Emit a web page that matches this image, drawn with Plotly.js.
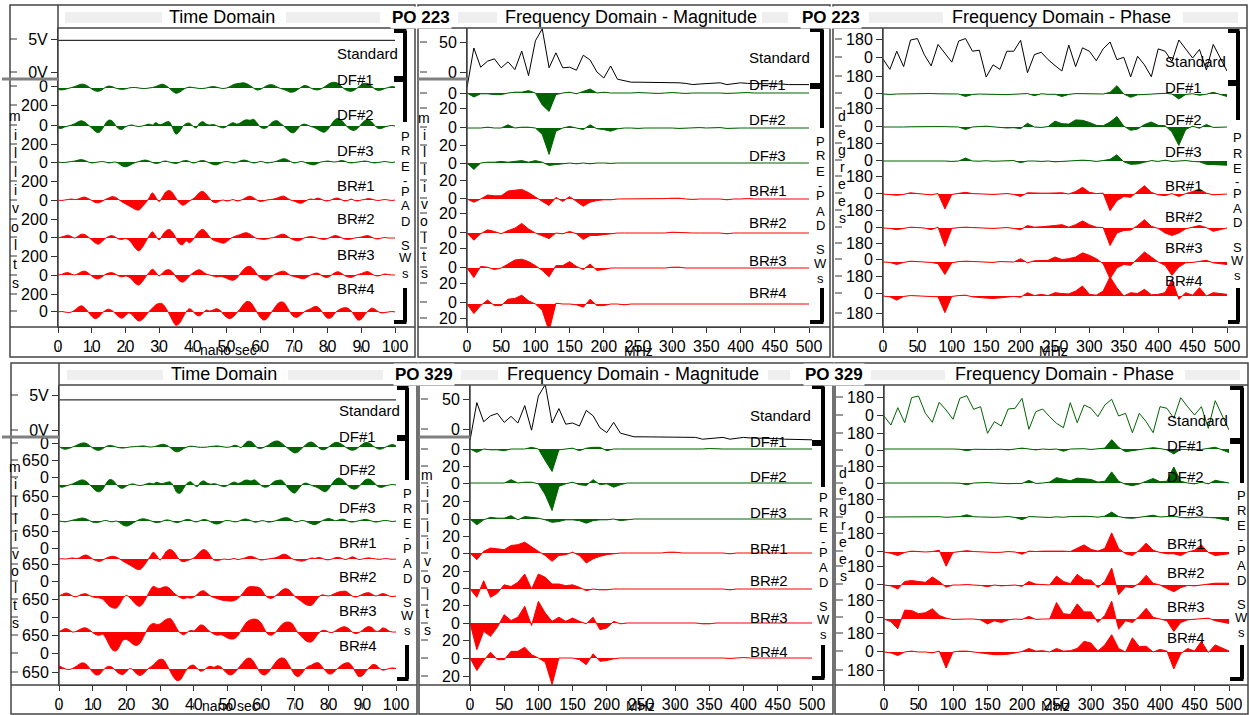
<!DOCTYPE html>
<html><head><meta charset="utf-8">
<script src="https://cdn.plot.ly/plotly-3.0.1.min.js"></script>
<style>html,body{margin:0;padding:0;background:#fff}#chart{width:1249px;height:715px}</style>
</head><body><div id="chart"></div>
<script>
// ---------------- DATA ----------------
const timeNs = [0,1,2,3,4,5,6,7,8,9,10,11,12,13,14,15,16,17,18,19,20,21,22,23,24,25,26,27,28,29,30,31,32,33,34,35,36,37,38,39,40,41,42,43,44,45,46,47,48,49,50,51,52,53,54,55,56,57,58,59,60,61,62,63,64,65,66,67,68,69,70,71,72,73,74,75,76,77,78,79,80,81,82,83,84,85,86,87,88,89,90,91,92,93,94,95,96,97,98,99,100];
const freqMag = [0,10,20,30,40,50,60,70,80,90,100,110,120,130,140,150,160,170,180,190,200,210,220,230,240,250,260,270,280,290,300,310,320,330,340,350,360,370,380,390,400,410,420,430,440,450,460,470,480,490,500];
const freqPhase = [0,10,20,30,40,50,60,70,80,90,100,110,120,130,140,150,160,170,180,190,200,210,220,230,240,250,260,270,280,290,300,310,320,330,340,350,360,370,380,390,400,410,420,430,440,450,460,470,480,500];
const seriesNames = ['Standard','DF#1','DF#2','DF#3','BR#1','BR#2','BR#3','BR#4'];
const poLabels = ['PO 223','PO 329'];
const panelTitles = ['Time Domain','Frequency Domain - Magnitude','Frequency Domain - Phase'];
const timeTicks = [0,10,20,30,40,50,60,70,80,90,100];
const freqTicks = [0,50,100,150,200,250,300,350,400,450,500];
const timeStdTickText = ['5V','0V'];
const magStdTickText = ['50','0'];
const phaseStdTickText = ['180','0','180'];
const timeTopUnitText = '200', timeBotUnitText = '650', magUnitText = '20', phaseUnitText = '180';

// Time domain, PO 223 (Standard in V, others in mV)
const tStdTop = [4.80,4.80,4.79,4.79,4.78,4.79,4.80,4.81,4.80,4.79, 4.78,4.77,4.77,4.78,4.79,4.80,4.79,4.78,4.77,4.78, 4.79,4.80,4.79,4.78,4.77,4.76,4.76,4.77,4.79,4.81, 4.83,4.84,4.83,4.81,4.79,4.78,4.78,4.79,4.80,4.80, 4.79,4.78,4.78,4.79,4.80,4.81,4.80,4.79,4.78,4.78, 4.79,4.81,4.82,4.82,4.81,4.80,4.79,4.78,4.77,4.77, 4.78,4.79,4.80,4.79,4.78,4.78,4.79,4.80,4.80,4.79, 4.78,4.77,4.77,4.78,4.79,4.80,4.79,4.78,4.78,4.79, 4.80,4.81,4.80,4.79,4.78,4.77,4.76,4.76,4.77,4.78, 4.79,4.80,4.81,4.80,4.79,4.79,4.80,4.80,4.80,4.80, 4.80];
const tDF1Top = [-15,-20,-15,-5,5,15,30,40,35,15, -10,-30,-35,-20,5,20,15,0,-10,-15, -10,0,5,5,0,-5,-5,0,5,15, 30,40,25,0,-35,-55,-45,-20,0,10, 5,0,-5,-5,0,10,15,10,0,-5, 0,15,35,45,50,55,45,25,0,-20, -15,5,25,35,30,10,-5,-15,-30,-45, -40,-20,5,25,20,0,-15,-20,-10,10, 35,55,60,50,20,-10,-30,-35,-20,5, 35,50,45,20,-10,-25,-20,-5,5,15, 10];
const tDF2Top = [-20,-25,-10,0,10,25,45,55,40,10, -20,-55,-70,-40,20,60,55,10,-30,-35, -10,5,10,0,-5,0,10,20,10,35, 15,20,40,45,-20,-85,-60,-5,25,30, 0,-20,30,45,20,10,15,5,-10,-20, -5,20,35,20,30,55,65,60,70,35, -10,-25,-15,20,50,55,30,0,-35,-65, -70,-35,5,20,10,-5,-15,-35,-55,-65, -40,10,60,80,65,25,-15,-40,-45,-20, 20,55,65,45,5,-25,-25,-10,0,5, 0];
const tDF3Top = [0,-5,-5,0,5,10,20,25,15,0, -10,-5,0,5,0,-10,-5,0,-15,-40, -50,-40,-20,-5,5,15,20,10,-5,-15, -10,5,10,0,-10,-15,-5,10,15,5, -10,-5,10,15,5,-10,-25,-30,-15,0, 5,0,-10,-5,10,20,15,0,-10,-5, 5,0,-10,-5,0,10,25,35,25,5, -10,-5,5,0,-15,-25,-30,-15,0,5, 10,5,0,5,15,10,-5,-10,-5,0, 5,10,5,-5,-10,-5,0,5,0,-5, 0];
const tBR1Top = [0,-5,0,5,10,5,10,25,30,15, -5,-25,-30,-15,5,20,35,30,5,-20, -40,-60,-80,-100,-105,-70,-30,20,75,30, -15,30,85,100,75,20,-30,-55,-40,-10, 10,40,80,90,60,15,-20,-25,-10,0, -10,-5,5,-10,-5,10,30,40,25,0, -15,-10,0,5,10,20,35,40,20,0, -10,-25,-35,-20,0,10,5,20,10,-5, -10,0,15,20,5,-10,-5,10,-5,-10, 0,5,15,10,0,-5,0,5,0,-5, 0];
const tBR2Top = [0,10,20,30,15,0,20,40,35,10, -20,-50,-65,-40,-5,15,25,10,-10,-15, -5,-20,-60,-110,-135,-100,-40,20,65,20, -20,30,75,90,60,0,-60,-70,-30,-50, -20,30,75,90,60,10,-20,-35,-45,-55, -40,-10,10,25,35,50,55,40,15,-5, -10,-15,-10,0,5,20,35,40,20,-5, -20,-30,-20,0,10,15,10,0,-10,-15, -5,10,25,20,5,-10,-15,-10,0,5, 10,20,25,10,-5,-10,0,5,0,0, 0];
const tBR3Top = [0,5,20,25,10,0,15,35,40,20, -10,-35,-40,-20,5,20,25,10,-10,-20, -10,-20,-50,-90,-105,-70,-20,25,60,30, -10,20,50,55,30,-20,-60,-75,-50,-10, 20,45,55,35,10,0,-10,-20,-15,-20, -35,-50,-55,-35,10,55,85,90,60,10, -30,-50,-55,-30,0,20,35,40,20,-5, -15,-25,-35,-40,-20,0,15,20,0,-20, -25,-5,20,35,20,-5,-20,-25,-10,5, 15,30,35,15,-5,-10,0,10,5,0, 0];
const tBR4Top = [0,5,0,-5,0,20,50,65,40,0, -45,-70,-55,-15,15,30,15,-15,-50,-65, -40,-10,-30,-70,-95,-80,-40,5,40,75, 90,85,40,-20,-90,-140,-120,-60,0,35, 10,-30,-40,-10,20,10,20,35,20,-20, -55,-70,-50,-10,30,80,110,105,60,0, -55,-85,-70,-20,30,80,105,100,50,-10, -50,-55,-30,0,20,35,55,55,20,-30, -65,-60,-20,15,35,45,40,10,-40,-85, -75,-30,10,40,30,5,-10,-5,0,5, 0];

// Time domain, PO 329
const tStdBot = [4.30,4.30,4.29,4.28,4.28,4.29,4.30,4.31,4.30,4.29, 4.28,4.27,4.27,4.28,4.29,4.30,4.30,4.29,4.28,4.28, 4.29,4.30,4.29,4.28,4.27,4.26,4.26,4.27,4.29,4.31, 4.33,4.34,4.33,4.31,4.29,4.28,4.28,4.29,4.30,4.30, 4.29,4.28,4.28,4.29,4.30,4.31,4.30,4.29,4.28,4.28, 4.29,4.30,4.31,4.31,4.30,4.29,4.28,4.27,4.27,4.27, 4.28,4.29,4.30,4.29,4.28,4.28,4.29,4.31,4.31,4.30, 4.28,4.27,4.27,4.28,4.29,4.30,4.29,4.28,4.28,4.29, 4.30,4.31,4.30,4.29,4.28,4.27,4.26,4.26,4.27,4.28, 4.29,4.30,4.31,4.30,4.29,4.29,4.30,4.30,4.30,4.30, 4.30];
const tDF1Bot = [30,-60,-80,-50,0,50,110,150,140,60, -40,-110,-120,-60,20,60,40,0,-30,-40, -20,0,10,20,30,40,20,0,10,40, 80,100,60,-20,-130,-180,-140,-60,0,30, 20,0,-10,-10,0,20,30,40,20,0, -10,10,60,40,-20,100,210,200,80,-40, -50,0,60,150,210,220,150,40,-60,-160, -220,-180,-60,60,160,180,100,-20,-100,-80, 0,100,170,160,90,0,-80,-120,-90,0, 100,170,150,60,-30,-80,-60,0,60,90, 40];
const tDF2Bot = [-60,-80,-40,0,40,100,160,190,140,30, -100,-220,-250,-150,60,200,170,30,-100,-120, -40,20,40,0,-20,0,40,70,40,100, 60,60,100,110,-40,-280,-300,-120,60,120, 20,-60,100,150,70,30,50,20,-30,-60, -20,60,110,60,90,170,180,150,190,100, -20,-80,-60,40,140,170,180,60,-120,-250, -300,-160,0,70,40,-20,-60,-120,-200,-250, -150,40,200,260,210,80,-60,-140,-150,-60, 80,200,220,150,20,-80,-80,-30,0,20, 0];
const tDF3Bot = [0,-20,-30,0,30,60,90,110,80,20, -40,-60,-40,0,20,-20,-30,0,-60,-150, -190,-150,-70,0,60,80,60,20,-30,-60, -40,10,40,20,-30,-60,-30,20,60,40, -20,-30,20,60,30,-30,-90,-110,-70,0, 20,0,-30,-20,30,70,60,10,-40,-30, 10,0,-40,-30,0,40,90,120,110,40, -30,-20,20,0,-60,-110,-130,-70,0,60, 90,60,10,40,70,40,-20,-40,-20,10, 40,60,30,-10,-40,-20,10,20,0,-20, 0];
const tBR1Bot = [0,10,0,20,40,20,40,110,150,90, 0,-60,-90,-40,30,80,100,70,0,-80, -160,-220,-300,-370,-390,-280,-100,80,250,120, -40,120,300,350,280,100,-60,-100,-60,-20, 40,150,290,350,280,100,-40,-60,-30,0, -20,-10,20,-20,0,30,80,100,60,0, -40,-20,0,20,40,80,150,180,120,20, -30,-60,-80,-50,0,40,20,60,30,-20, -30,0,50,60,20,-20,20,80,40,-20, 0,30,40,20,0,-10,0,20,0,-10, 0];
const tBR2Bot = [0,60,110,80,0,-30,20,70,80,20, -30,-60,-70,-120,-250,-380,-440,-450,-300,-80, 20,-60,-200,-330,-380,-260,-40,200,360,300, 280,330,340,260,120,20,-60,-100,-60,-80, -40,60,170,190,100,0,-60,-100,-140,-170, -180,-190,-170,-100,20,180,320,350,340,330, 250,60,-60,-90,-20,80,200,270,250,120, -20,-120,-200,-300,-350,-340,-200,-40,40,20, 0,40,100,150,170,180,100,0,-40,0, 60,110,120,60,0,40,90,60,0,-20, 0];
const tBR3Bot = [0,80,130,80,0,20,80,140,150,80, -20,-100,-120,-80,-250,-500,-680,-700,-520,-300, -280,-350,-460,-500,-420,-200,50,250,320,280, 300,400,480,500,350,120,-40,-100,-20,60, 40,150,260,230,100,0,-80,-120,-100,-150, -220,-260,-250,-150,50,250,400,460,480,450, 330,100,-80,-120,-40,100,260,350,370,330, 150,-50,-180,-300,-370,-360,-220,-50,50,60, 0,-20,40,120,180,190,120,0,-60,-20, 60,160,200,150,30,40,150,120,30,0, 0];
const tBR4Bot = [120,60,0,-20,20,90,180,230,180,40, -120,-220,-200,-60,60,100,40,-80,-180,-200, -100,20,-40,-180,-240,-180,-40,60,150,280, 360,340,150,-80,-300,-430,-400,-200,0,120, 140,20,-80,-40,60,100,60,120,80,-60, -180,-220,-150,0,150,300,400,380,220,0, -180,-220,-140,20,200,350,410,380,200,-20, -220,-280,-180,0,100,150,220,230,100,-60, -180,-170,-60,60,160,220,230,100,-120,-280, -250,-100,40,160,150,40,-40,-20,20,40, 20];

// Frequency domain magnitude, PO 223
const mStdTop = [-26,40,8,18,22,7,17,4,35,-6, 52,72,7,32,7,8,3,28,20,0, -10,10,-12,-14,-17,-17,-17,-17,-18,-17, -18,-18,-19,-21,-20,-19,-19,-18,-21,-19, -18,-19,-19,-20,-20,-20,-20,-21,-21,-21, -21];
const mDF1Top = [0,-5,-1,-1,-2,-2,0,1,1,3, 0,-15,-23,-2,0,1,-1,2,5,0, 1,0,0,-0.5,0,0.5,0,0,-0.5,0, 0.5,0,-0.5,0,0,0.5,0,0,-0.5,0, 0,0.5,0,0,0,-0.5,0,0,0,0, 0];
const mDF2Top = [0,0,0,1,0,0,4,0,1,1, 0,-8,-33,-4,0,2,0,-2,4,-1, -2,-4,-1,0,0,-0.5,0,0,0.5,0, 0,-0.5,0,0,0.5,0,0,0.5,-0.5,0, 0,0,0,0.5,0,0,0,0,0,0, 0];
const mDF3Top = [0,-8,0,1,1,2,1,2,3,1, 3,1,-3,-2,-1,0,-1,0,-1,0, 0,-0.5,0,0,0,0,0,0,0,0, 0,0,0,0,0,0,0,0,0,0, 0,0,0,0,0,0,0,0,0,0, 0];
const mBR1Top = [0,-4,0,5,4,4,10,11,12,8, 2,-3,-8,2,-3,3,-3,-9,-4,-2, -1,-1,0,0,0,0,0,0,0,0.5, 1,1,0,-0.5,0,0,0,0,-1,0, 0,0.5,0,0,0,0,0,0,0,0, 0];
const mBR2Top = [0,-9,-1,4,2,-1,3,6,12,5, 0,-4,-7,0,-1,2,-1,-8,-3,-3, -2,-1,0,0,0,0,0,0,0,0, 1,0.5,0,0,0,0,0,0,-1,0, 0,0,0,0,0,0,0,0,0,0, 0];
const mBR3Top = [0,-12,2,1,-2,0,5,10,11,8, 3,-3,-11,3,3,8,2,-2,5,-3, -2,0,0,0,0,0,0,0,0,0, 1,1,0,0,0,0,0,0,0,0, 0,0,0,0,0,0,0,0,0,0, 0];
const mBR4Top = [0,-12,-2,5,-2,-2,6,7,11,4, 0,-8,-34,1,0,0,-1,-4,6,-2, -2,0,0,-1,0,0,0,0,0,0.5, 0.5,0,0,0,0,0,0,0.5,0,0, 0.5,0,0,0,0,0,0,0,0,0, 0];

// Frequency domain magnitude, PO 329
const mStdBot = [-19,44,12,22,26,11,21,10,39,-2, 55,74,10,34,8,10,5,31,22,2, -6,11,-7,-10,-13,-13,-13,-14,-14,-13, -13,-14,-14,-14,-17,-16,-16,-14,-17,-15, -14,-15,-15,-16,-16,-16,-17,-17,-18,-18, -18];
const mDF1Bot = [0,-4,0,-1,-1,-2,0,0,0,2, 0,-14,-27,-1,0,1,-2,1,2,2, -2,0,0,0,-0.5,0,0,0,0,0, 0,-0.5,0,0,0,0.5,0,0,0,0, 0,0,0,0,0,0,0,0,0,0, 0];
const mDF2Bot = [0,0,0,0,0,0,4,0,1,1, -1,-14,-33,-4,-1,1,-2,-3,4,-2, -1,-5,-2,0,0,0,0,0,-0.5,0, 0,0,0,0,0,0,0,-0.5,-0.5,0, 0,0,0,0,0,0,0,0,0,0, 0];
const mDF3Bot = [0,-7,-1,2,1,1,4,-1,3,2, 1,-1,-4,-3,-1,-1,-2,-5,-2,-1, -1,0,-2,-1,0,0,0,0,0,0, 0,0,0,0,0,0,0,0,0,0, 0,0,0,0,0,0,0,0,0,0, 0];
const mBR1Bot = [0,-8,2,6,5,4,9,10,13,7, 2,-3,-10,-3,-2,1,-3,-12,-7,-4, -2,-1,0,0,0,0,0,0,0,1, 1,0,0,0,0,0,0,0,-1,0, 0,0,0,0,0,0,0,0,0,0, 0];
const mBR2Bot = [0,-10,10,-10,-5,5,3,8,18,0, 18,14,6,6,4,5,2,-2,0,-1, -1,0,0,0,0,0,0,0,0,0, 0.5,0,0,0,0,0,0,0,-1,0, 0,0,0,0,0,0,0,0,0,0, 0];
const mBR3Bot = [0,-32,-10,-16,-5,10,3,7,20,-3, 26,12,2,7,2,6,2,-1,7,-8, -6,2,-1,0,0,0,0,0,0,0, 0,0,0,0,-1,-1,0,0,0,0, 0,0,0,0,0,0,0,0,0,0, 0];
const mBR4Bot = [0,-15,-3,7,-2,-2,8,8,13,4, 0,-5,-32,0,0,0,-2,-8,5,-4, -3,-1,0,0,0,0,0,0,0,0, 0,0.5,0,0,0,0,0.5,0,-0.5,0, 0.5,0,0,0,0,0,0,0,0,0, 0];

// Frequency domain phase (degrees), PO 223
const pStdTop = [-20,-120,56,-93,165,179,23,-86,122,40, -50,155,179,56,66,-195,-76,-120,56,56, 162,-152,23,46,-26,-83,-136,116,-93,89, 56,-36,79,146,-26,-3,-192,7,-76,-192, 79,56,-43,165,83,-10,73,-126,122,-136];
const pDF1Top = [0,-5,0,2,4,5,8,6,2,0, -3,0,-30,-5,0,-4,-6,-3,-8,-3, 2,5,-20,3,-4,-3,-30,-5,5,2, -3,-2,0,20,100,0,-40,-10,-5,0, 5,8,0,-60,-5,3,-15,-3,20,-30];
const pDF2Top = [0,-2,0,0,2,3,8,12,5,4, 2,0,-30,0,5,10,2,-5,-12,-8, -20,45,0,-5,5,70,40,35,85,80, 55,20,15,60,125,10,-40,-25,30,60, 20,15,-60,-220,-30,10,-15,30,-5,0];
const pDF3Top = [0,0,0,0,4,6,6,8,2,0, -5,0,35,0,-2,3,-3,0,0,5, -20,0,0,-5,0,-10,-5,2,8,10, 5,-5,5,20,75,-10,-40,-35,-15,5, -5,10,-5,0,5,-5,-10,-40,-45,-50];
const pBR1Top = [0,-5,-15,-5,15,5,0,-10,5,-180, -5,5,20,5,0,0,-5,0,5,-5, -30,15,10,10,10,15,15,0,30,80, 20,5,10,-200,-80,-30,-40,30,100,20, -10,-20,5,-30,5,30,60,10,-10,0];
const pBR2Top = [0,-5,-20,-5,10,5,0,-20,10,-220, -5,5,10,5,0,0,-5,0,5,-5, -20,30,10,15,20,30,40,10,40,85, 40,10,5,-210,-60,-30,-25,30,100,20, -5,-60,-90,-60,-10,10,30,5,-40,0];
const pBR3Top = [0,-5,-30,-5,10,5,0,-5,-20,-150, -10,5,10,5,0,0,-5,5,5,0, 40,-10,15,20,20,60,30,40,60,110, 80,40,-20,-200,-70,-30,-40,40,120,60, 0,-40,-160,-60,-10,-5,5,20,-10,-30];
const pBR4Top = [0,-10,-50,-5,5,0,-5,-5,-10,-200, -5,5,10,-10,-20,-25,-30,-20,-10,-5, -15,40,5,20,5,40,30,25,60,120, 20,10,60,230,100,0,40,30,80,15, 20,40,200,-40,40,10,100,0,40,20];

// Frequency domain phase (degrees), PO 329
const pStdBot = [-10,-100,73,-77,173,190,17,-73,127,50, -43,167,193,57,83,-183,-67,-110,60,67, 167,-143,33,60,-17,-83,-127,123,-77,100, 67,-17,100,157,-10,17,-177,17,-67,-177, 83,67,-33,173,83,0,83,-133,143,-150];
const pDF1Bot = [0,0,2,2,3,5,5,6,3,0, 0,-3,-20,-3,0,-5,-5,-3,-10,0, 10,0,-10,0,-5,0,-25,0,5,3, -5,0,10,105,20,-30,-20,-5,5,15, 5,-10,-55,-5,-5,-10,-5,10,20,-40];
const pDF2Bot = [0,0,0,0,0,3,5,8,5,3, 0,-2,-20,0,5,5,0,-8,-8,-5, -5,30,-5,0,10,60,45,25,55,50, 40,10,20,125,20,-15,-30,-10,20,50, 15,20,180,20,0,-10,10,-10,30,0];
const pDF3Bot = [0,0,2,3,5,8,6,5,3,-3, 0,5,25,3,0,-5,-3,0,5,-5, -30,5,0,-3,-5,2,-3,5,10,8, 5,-2,10,55,5,-10,-15,-5,10,20, 0,5,10,-5,-10,-5,0,-5,-10,-40];
const pBR1Bot = [0,-15,-40,-5,10,5,0,5,20,-160, -5,5,15,5,0,-5,-5,-3,5,0, -25,10,5,10,10,15,10,5,40,80, 30,10,40,215,40,-20,-40,20,100,20, -5,-20,-20,-40,0,20,80,-5,-40,-20];
const pBR2Bot = [0,-10,-45,40,50,40,30,90,40,-25, 0,0,5,0,-5,-20,0,-10,-5,0, -15,40,10,5,0,100,40,15,120,60, 55,-30,40,190,-110,-20,-30,20,110,20, 0,-40,-75,-30,-5,-10,0,5,20,20];
const pBR3Bot = [0,-30,-110,100,95,60,70,115,40,10, -5,0,0,0,-10,-55,-20,-40,-10,0, -5,30,-5,0,0,185,60,50,170,80, 80,-40,40,200,-115,-20,-40,30,120,20, 0,-20,-140,-40,-10,-5,0,10,-20,-50];
const pBR4Bot = [0,-10,-40,0,10,0,0,-10,10,-180, 0,10,10,0,-15,-20,-30,-30,-25,-10, 5,40,10,15,0,40,10,15,40,120, 100,10,80,195,40,0,160,60,65,0, 30,10,-190,-20,40,10,120,-5,80,10];

// ---------------- LAYOUT GEOMETRY (page pixels) ----------------
const W = 1249, H = 715;
const FONT = 'Liberation Sans, Arial, Helvetica, sans-serif';
const GREEN = '#006400', RED = '#ff0000';
const PREPAD = ['P','R','E','-','P','A','D','S','W','s'];
const PREPAD_OFF = [0,15,30,44,55,70,85,109,122,137];

const panels = [
 {kind:'time', x:timeNs, data:[tStdTop,tDF1Top,tDF2Top,tDF3Top,tBR1Top,tBR2Top,tBR3Top,tBR4Top], xRange:[0,100], xTicks:timeTicks,
  frame:[10,415,5,357], titleB:28, plot:[58,395,28,327], vTop:5, titleLineL:58,
  stdZero:72, stdGain:6.6, stdTickPx:[39,72], stdTickText:timeStdTickText, stdColor:'#000',
  base:[88,126,162,200,238,275,312], gain:0.095,
  zeroTicks:[86,125,162,200,237,275,311], unitTicks:[105,144,181,219,256,294], unitText:timeTopUnitText,
  labelX:335, labelY:[53,79,114,150,185,218,254,288], title:panelTitles[0], titleX:222, gray:[[65,162],[286,380]],
  side:'millivolts', sideX:15, sideY0:116, sideStep:18.5, ppX:405, ppY0:136,
  br:{tip:394, x:405, top:31, block:79, mid:122, low:[288,322]}, sep:[2,58,79], xlab:'nano sec', xlabPos:[228,350], dash:[10,17]},
 {kind:'mag', x:freqMag, data:[mStdTop,mDF1Top,mDF2Top,mDF3Top,mBR1Top,mBR2Top,mBR3Top,mBR4Top], xRange:[0,500], xTicks:freqTicks,
  frame:[418,830,5,357], titleB:28, plot:[467,809,28,327], vTop:28, titleLineL:418,
  stdZero:72, stdGain:0.6, stdTickPx:[42,72], stdTickText:magStdTickText, stdColor:'#000',
  base:[93,128,163,199,233,268,304], gain:0.8,
  zeroTicks:[93,127,163,198,232,267,302], unitTicks:[108,145,180,213,248,283,318], unitText:magUnitText,
  labelX:747, labelY:[58,85,119,155,190,223,260,293], title:panelTitles[1], titleX:631, gray:[[458,497],[762,788]],
  side:'millivolts', sideX:424, sideY0:118, sideStep:17.2, ppX:820, ppY0:141,
  br:{tip:810, x:822, top:30, block:86, mid:128, low:[288,322]}, sep:[418,467,79], xlab:'MHz', xlabPos:[638,351], dash:[420,427]},
 {kind:'phase', x:freqPhase, data:[pStdTop,pDF1Top,pDF2Top,pDF3Top,pBR1Top,pBR2Top,pBR3Top,pBR4Top], xRange:[0,500], xTicks:freqTicks,
  frame:[833,1247,5,357], titleB:28, plot:[883,1227,28,327], vTop:28, titleLineL:833,
  stdZero:57, stdGain:0.103, stdTickPx:[39,57,76], stdTickText:phaseStdTickText, stdColor:'#000',
  base:[94,127,161,194,228,262,296], gain:0.0833,
  zeroTicks:[93,126,160,193,227,259,293], unitTicks:[108,143,176,210,243,276,313], unitText:phaseUnitText,
  labelX:1163, labelY:[62,87,119,152,185,216,248,280], title:panelTitles[2], titleX:1061, gray:[[869,943],[1183,1238]],
  side:'degrees', sideX:842, sideY0:116, sideStep:17, ppX:1237, ppY0:138,
  br:{tip:1228, x:1238, top:31, block:83, mid:120, low:[288,322]}, sep:null, xlab:'MHz', xlabPos:[1053,351], dash:[835,842]},
 {kind:'time', x:timeNs, data:[tStdBot,tDF1Bot,tDF2Bot,tDF3Bot,tBR1Bot,tBR2Bot,tBR3Bot,tBR4Bot], xRange:[0,100], xTicks:timeTicks,
  frame:[11,417,363,714], titleB:385, plot:[59,396,385,685], vTop:363, titleLineL:59,
  stdZero:430, stdGain:7, stdTickPx:[395,430], stdTickText:timeStdTickText, stdColor:'#000',
  base:[447,485,521,559,596,632,669], gain:0.0269,
  zeroTicks:[443,477,514,548,581,617,653], unitTicks:[460,496,531,564,599,635,672], unitText:timeBotUnitText,
  labelX:337, labelY:[410,436,470,507,542,576,610,645], title:panelTitles[0], titleX:224, gray:[[67,163],[288,383]],
  side:'millivolts', sideX:15, sideY0:467, sideStep:17.3, ppX:407, ppY0:493,
  br:{tip:397, x:407, top:388, block:438, mid:480, low:[645,679]}, sep:[2,59,437], xlab:'nano sec', xlabPos:[230,706], dash:[11,18]},
 {kind:'mag', x:freqMag, data:[mStdBot,mDF1Bot,mDF2Bot,mDF3Bot,mBR1Bot,mBR2Bot,mBR3Bot,mBR4Bot], xRange:[0,500], xTicks:freqTicks,
  frame:[419,833,363,714], titleB:385, plot:[470,812,385,685], vTop:385, titleLineL:419,
  stdZero:429, stdGain:0.6, stdTickPx:[399,429], stdTickText:magStdTickText, stdColor:'#000',
  base:[449,483,519,553,589,623,658], gain:0.833,
  zeroTicks:[449,483,519,553,588,623,658], unitTicks:[466,501,536,571,605,640,676], unitText:magUnitText,
  labelX:748, labelY:[415,441,476,512,548,580,617,651], title:panelTitles[1], titleX:633, gray:[[461,498],[768,790]],
  side:'millivolts', sideX:427, sideY0:475, sideStep:17.2, ppX:823, ppY0:497,
  br:{tip:812, x:823, top:387, block:443, mid:487, low:[645,678]}, sep:[419,470,437], xlab:'MHz', xlabPos:[640,706], dash:[421,428]},
 {kind:'phase', x:freqPhase, data:[pStdBot,pDF1Bot,pDF2Bot,pDF3Bot,pBR1Bot,pBR2Bot,pBR3Bot,pBR4Bot], xRange:[0,500], xTicks:freqTicks,
  frame:[835,1248,363,714], titleB:385, plot:[884,1229,385,685], vTop:385, titleLineL:835,
  stdZero:415, stdGain:0.1, stdTickPx:[397,415,433], stdTickText:phaseStdTickText, stdColor:GREEN,
  base:[449,483,517,552,585,619,652], gain:0.089,
  zeroTicks:[450,483,517,551,584,617,651], unitTicks:[466,499,533,566,600,633,670], unitText:phaseUnitText,
  labelX:1165, labelY:[421,445,476,510,543,572,606,637], title:panelTitles[2], titleX:1064, gray:[[871,945],[1185,1240]],
  side:'degrees', sideX:843, sideY0:473, sideStep:17.2, ppX:1241, ppY0:495,
  br:{tip:1230, x:1242, top:388, block:441, mid:483, low:[645,679]}, sep:null, xlab:'MHz', xlabPos:[1055,706], dash:[836,843]}
];

// ---------------- BUILD ----------------
const px = v => v / W, py = v => 1 - v / H;
const traces = [], shapes = [], annotations = [];
const layout = {width:W, height:H, margin:{l:0,r:0,t:0,b:0,autoexpand:false}, paper_bgcolor:'#fff', plot_bgcolor:'rgba(0,0,0,0)',
  showlegend:false, hovermode:false, font:{family:FONT, color:'#000'}};
const yid = n => n === 1 ? 'y' : 'y' + n;
const ykey = n => n === 1 ? 'yaxis' : 'yaxis' + n;
const line = (x0,y0,x1,y1,color,width) => shapes.push({type:'line', xref:'paper', yref:'paper', x0:px(x0), y0:py(y0), x1:px(x1), y1:py(y1), line:{color, width}});
const rect = (x0,y0,x1,y1,fill,lc,lw) => shapes.push({type:'rect', xref:'paper', yref:'paper', x0:px(x0), y0:py(y1), x1:px(x1), y1:py(y0), fillcolor:fill, line:{color:lc||'rgba(0,0,0,0)', width:lw||0}, layer:'below'});
const text = (t,x,y,size,opts) => annotations.push(Object.assign({text:t, x:px(x), y:py(y), xref:'paper', yref:'paper', showarrow:false, font:{family:FONT, size, color:'#000'}, xanchor:'center', yanchor:'middle'}, opts||{}));

panels.forEach((p, pi) => {
  const xid = pi === 0 ? 'x' : 'x' + (pi + 1);
  const xkey = pi === 0 ? 'xaxis' : 'xaxis' + (pi + 1);
  const b0 = pi * 9 + 1;
  const fid = yid(b0);
  const [pL, pR, pT, pB] = p.plot;
  const [fL, fR, fT, fB] = p.frame;

  layout[xkey] = {domain:[px(pL), px(pR)], range:p.xRange, anchor:fid, tickvals:p.xTicks, ticktext:p.xTicks.map(String),
    ticks:'outside', ticklen:5, tickcolor:'#333', showline:true, linecolor:'#333', linewidth:1, showgrid:false, zeroline:false,
    tickfont:{family:FONT, size:16, color:'#000'}, fixedrange:true};

  const tv = [], tt = [];
  p.stdTickPx.forEach((v, i) => { tv.push(v); tt.push(p.stdTickText[i]); });
  p.zeroTicks.forEach(v => { tv.push(v); tt.push('0'); });
  p.unitTicks.forEach(v => { tv.push(v); tt.push(p.unitText); });
  layout[ykey(b0)] = {domain:[py(pB), py(pT)], range:[pB, pT], anchor:xid, tickvals:tv, ticktext:tt,
    ticks:'outside', ticklen:6, tickcolor:'#333', showline:true, linecolor:'#333', linewidth:1, showgrid:false, zeroline:false,
    tickfont:{family:FONT, size:16, color:'#000'}, fixedrange:true};
  traces.push({type:'scatter', mode:'lines', x:[null], y:[null], xaxis:xid, yaxis:fid, showlegend:false, hoverinfo:'skip'});

  p.data.forEach((vals, k) => {
    const n = b0 + 1 + k;
    const zero = k === 0 ? p.stdZero : p.base[k - 1];
    const gain = k === 0 ? p.stdGain : p.gain;
    layout[ykey(n)] = {overlaying:fid, anchor:xid, range:[(zero - pB) / gain, (zero - pT) / gain], visible:false, fixedrange:true, showgrid:false, zeroline:false};
    const color = k === 0 ? p.stdColor : (k <= 3 ? GREEN : RED);
    const tr = {type:'scatter', mode:'lines', name:seriesNames[k], x:p.x, y:vals, xaxis:xid, yaxis:yid(n),
      line:{color, width:1, shape:(p.kind === 'time' && k > 0) ? 'spline' : 'linear'}, showlegend:false, hoverinfo:'skip'};
    if (k > 0) { tr.fill = 'tozeroy'; tr.fillcolor = color; }
    traces.push(tr);
    text(seriesNames[k], p.labelX, p.labelY[k], 15, {xanchor:'left'});
  });

  // frame & boxes
  rect(fL, fT, fR, fB, 'rgba(0,0,0,0)', '#444', 1.5);
  p.gray.forEach(g => rect(g[0], fT + 7, g[1], p.titleB - 5, '#efefef'));
  line(p.titleLineL, p.titleB, fR, p.titleB, '#444', 1.5);
  line(pL, p.vTop, pL, pB, '#444', 1.5);
  line(fL, pB, fR, pB, '#444', 1.5);
  if (p.sep) line(p.sep[0], p.sep[2], p.sep[1], p.sep[2], '#808080', 3);
  tv.forEach(v => line(p.dash[0], v, p.dash[1], v, '#333', 1));
  p.xTicks.forEach(v => shapes.push({type:'line', xref:xid, yref:'paper', x0:v, x1:v, y0:py(fB - 5), y1:py(fB - 11), line:{color:'#333', width:1}}));

  // bracket
  const br = p.br;
  line(br.tip, br.top, br.x + 1.5, br.top, '#000', 4);
  line(br.x, br.top, br.x, br.mid, '#000', 4);
  shapes.push({type:'rect', xref:'paper', yref:'paper', x0:px(br.tip), x1:px(br.x + 2), y0:py(br.block + 3), y1:py(br.block - 3), fillcolor:'#000', line:{width:0}});
  line(br.x, br.low[0], br.x, br.low[1], '#000', 4);
  line(br.tip, br.low[1], br.x + 1.5, br.low[1], '#000', 4);

  // texts
  text(p.title, p.titleX, (fT + p.titleB) / 2, 18);
  [...p.side].forEach((c, i) => text(c, p.sideX, p.sideY0 + i * p.sideStep, 14));
  PREPAD.forEach((c, i) => text(c, p.ppX, p.ppY0 + PREPAD_OFF[i], 13));
  text(p.xlab, p.xlabPos[0], p.xlabPos[1], 14);
});

// PO labels
text('<b>' + poLabels[0] + '</b>', 421, 17, 17, {bgcolor:'#fff'});
text('<b>' + poLabels[0] + '</b>', 831, 17, 17, {bgcolor:'#fff'});
text('<b>' + poLabels[1] + '</b>', 424, 374, 17, {bgcolor:'#fff'});
text('<b>' + poLabels[1] + '</b>', 834, 374, 17, {bgcolor:'#fff'});

layout.shapes = shapes;
layout.annotations = annotations;
Plotly.newPlot('chart', traces, layout, {staticPlot:true, displayModeBar:false});
</script>
</body></html>
